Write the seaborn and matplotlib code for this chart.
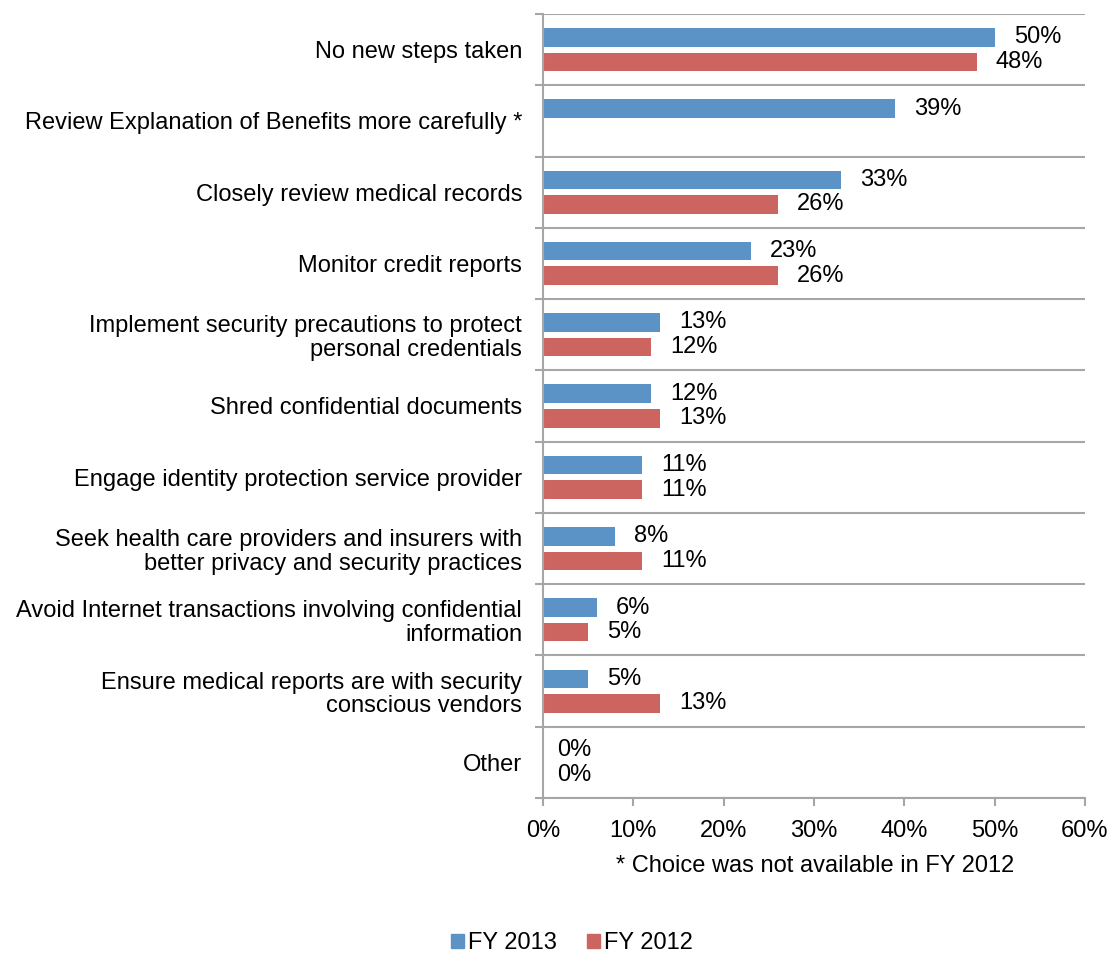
import numpy as np
import pandas as pd
import matplotlib
matplotlib.use("Agg")
import matplotlib.pyplot as plt
import seaborn as sns
from matplotlib.ticker import FixedLocator, PercentFormatter

categories = [
    "No new steps taken",
    "Review Explanation of Benefits more carefully *",
    "Closely review medical records",
    "Monitor credit reports",
    "Implement security precautions to protect\npersonal credentials",
    "Shred confidential documents",
    "Engage identity protection service provider",
    "Seek health care providers and insurers with\nbetter privacy and security practices",
    "Avoid Internet transactions involving confidential\ninformation",
    "Ensure medical reports are with security\nconscious vendors",
    "Other",
]
fy2013 = [50, 39, 33, 23, 13, 12, 11, 8, 6, 5, 0]
fy2012 = [48, np.nan, 26, 26, 12, 13, 11, 11, 5, 13, 0]
series_names = ["FY 2013", "FY 2012"]
colors = ["#5B93C7", "#CC6560"]
footnote = "* Choice was not available in FY 2012"

df = pd.DataFrame({
    "category": categories * 2,
    "value": fy2013 + fy2012,
    "year": [series_names[0]] * len(categories) + [series_names[1]] * len(categories),
})

sns.set_theme(style="white")
plt.rcParams["font.family"] = ["Liberation Sans", "DejaVu Sans"]
plt.rcParams["text.color"] = "black"
plt.rcParams["xtick.labelcolor"] = "black"
plt.rcParams["ytick.labelcolor"] = "black"
FS = 17

fig = plt.figure(figsize=(11.15, 9.56), dpi=100)
ax = fig.add_axes([543 / 1115, 1 - 798 / 956, 542 / 1115, 784 / 956])

sns.barplot(data=df, y="category", x="value", hue="year", order=categories,
            hue_order=series_names, palette=colors, orient="h",
            width=0.69, gap=0.245, saturation=1, linewidth=0, ax=ax, legend=False)

ax.set_xlim(0, 60)
ax.set_ylim(len(categories) - 0.5, -0.5)
ax.set_xlabel("")
ax.set_ylabel("")

# Category separators as minor gridlines
grid_color = "#A6A6A6"
ax.yaxis.set_minor_locator(FixedLocator(np.arange(-0.5, len(categories), 1.0)))
ax.grid(True, which="minor", axis="y", color=grid_color, linewidth=1.5)
ax.grid(False, which="major")
ax.tick_params(axis="y", which="major", length=0, pad=15, labelsize=FS, labelcolor="black")
ax.tick_params(axis="y", which="minor", length=6, width=1.5, color=grid_color, direction="out", left=True)
for lbl in ax.get_yticklabels():
    lbl.set_horizontalalignment("right")
    lbl.set_multialignment("right")
    lbl.set_linespacing(1.1)

ax.set_xticks(range(0, 61, 10))
ax.xaxis.set_major_formatter(PercentFormatter(decimals=0))
ax.tick_params(axis="x", which="major", length=6, width=1.5, color=grid_color,
               direction="out", bottom=True, labelsize=FS, labelcolor="black", pad=10)

for side in ["top", "right"]:
    ax.spines[side].set_visible(False)
ax.spines["left"].set_color(grid_color)
ax.spines["left"].set_linewidth(1.5)
ax.spines["bottom"].set_color(grid_color)
ax.spines["bottom"].set_linewidth(1.5)

# Value labels at the end of each bar (bars are matched to categories by position)
for container, vals in zip(ax.containers, [fy2013, fy2012]):
    for bar in container:
        y = bar.get_y() + bar.get_height() / 2
        v = vals[int(round(y))]
        if np.isnan(v):
            continue
        ax.annotate(f"{v:.0f}%", xy=(v, y), xytext=(14 if v == 0 else 19, 0),
                    textcoords="offset pixels", ha="left", va="center",
                    fontsize=FS, color="black")

fig.text(815 / 1115, 1 - 866 / 956, footnote, ha="center", va="center",
         fontsize=FS, color="black")

handles = [plt.Rectangle((0, 0), 1, 1, color=c) for c in colors]
leg = fig.legend(handles, series_names, loc="center", bbox_to_anchor=(572 / 1115, 1 - 943 / 956),
                 ncol=2, frameon=False, fontsize=FS, handlelength=0.55, handleheight=0.55,
                 handletextpad=0.15, columnspacing=1.3)
for t in leg.get_texts():
    t.set_color("black")

fig.savefig("out.png", dpi=100)
